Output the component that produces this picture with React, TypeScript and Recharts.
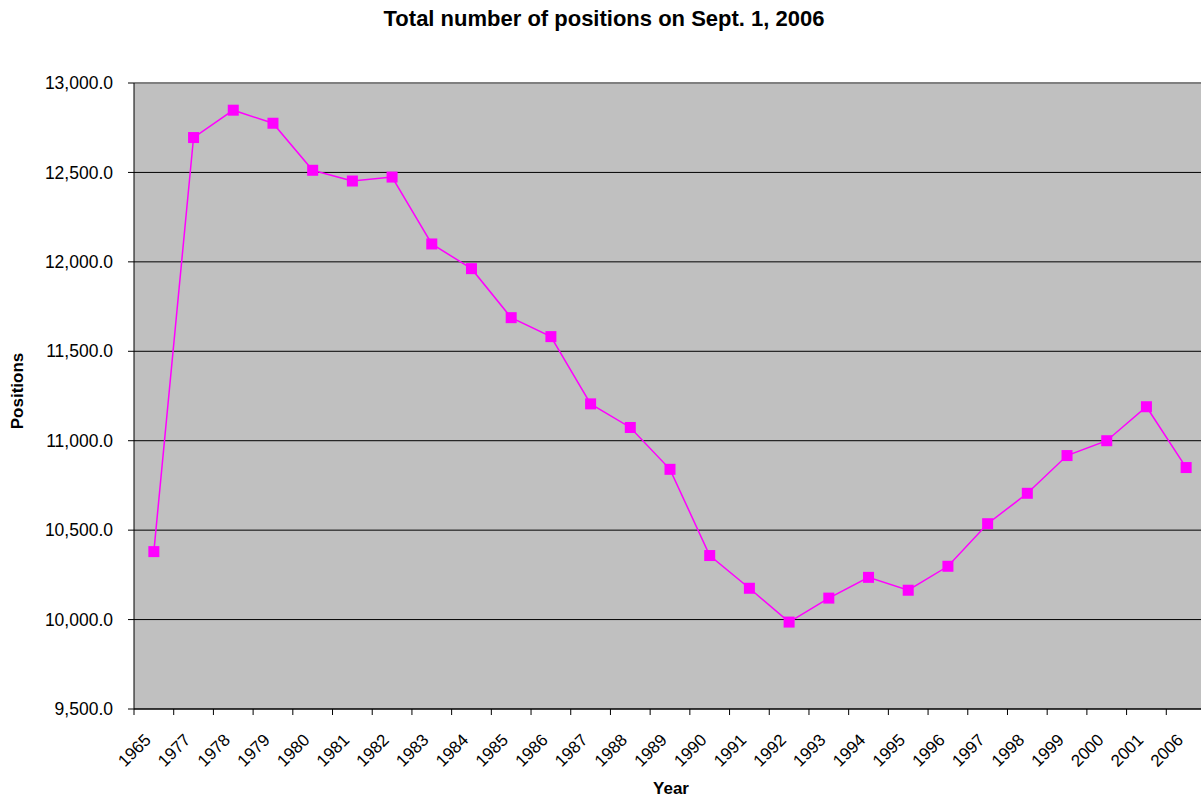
import React from 'react';
import { LineChart, Line, XAxis, YAxis, CartesianGrid, ReferenceLine } from 'recharts';

const years = ['1965','1977','1978','1979','1980','1981','1982','1983','1984','1985','1986','1987','1988','1989','1990','1991','1992','1993','1994','1995','1996','1997','1998','1999','2000','2001','2006'];
const positions = [10380,12695,12848,12775,12512,12452,12474,12100,11962,11688,11582,11206,11074,10840,10358,10175,9986,10120,10236,10164,10298,10536,10706,10917,11000,11190,10850];
const yTicks = [9500,10000,10500,11000,11500,12000,12500,13000];

const title = 'Total number of positions on Sept. 1, 2006';
const xTitle = 'Year';
const yTitle = 'Positions';

const data = years.map((y, i) => ({ year: y, value: positions[i] }));

const FONT = '"Liberation Sans", Arial, sans-serif';
const CHART_W = 1210;
const CHART_H = 798;
const Y_AXIS_W = 134;
const MARGIN = { top: 83, right: 4, bottom: 0, left: 0 };
const PLOT_W = CHART_W - Y_AXIS_W - MARGIN.left - MARGIN.right;
const BAND = PLOT_W / years.length;

function fmt(v: number): string {
  const s = Math.round(v).toString();
  const withCommas = s.replace(/\B(?=(\d{3})+(?!\d))/g, ',');
  return withCommas + '.0';
}

const XTick = (props: any) => {
  const { x, y, payload } = props;
  const bx = x - BAND / 2;
  const ax = x - 2;
  const ay = y + 32;
  return (
    <g>
      <line x1={bx} y1={y} x2={bx} y2={y + 6} stroke="#000" strokeWidth={1} />
      <text
        x={ax}
        y={ay}
        textAnchor="end"
        fontFamily={FONT}
        fontSize={17}
        fill="#000"
        transform={`rotate(-45 ${ax} ${ay})`}
      >
        {payload.value}
      </text>
    </g>
  );
};

const SquareDot = (props: any) => {
  const { cx, cy, index } = props;
  if (cx == null || cy == null) return null;
  return <rect key={`d${index}`} x={cx - 5.5} y={cy - 5.5} width={11} height={11} fill="#FF00FF" />;
};

export default function App() {
  return (
    <div style={{ position: 'absolute', left: 0, top: 0, width: 1201, height: 798, overflow: 'hidden', background: '#fff' }}>
      <LineChart width={CHART_W} height={CHART_H} data={data} margin={MARGIN}>
        <CartesianGrid vertical={false} stroke="#000" strokeOpacity={1} fill="#C0C0C0" fillOpacity={1} />
        <ReferenceLine y={13000} stroke="#808080" strokeWidth={2} />
        <XAxis
          dataKey="year"
          scale="band"
          interval={0}
          height={CHART_H - MARGIN.top - 626}
          tickLine={false}
          tickSize={0}
          tickMargin={0}
          axisLine={{ stroke: '#000', strokeWidth: 1 }}
          tick={<XTick />}
        />
        <YAxis
          domain={[9500, 13000]}
          ticks={yTicks}
          width={Y_AXIS_W}
          interval={0}
          tickSize={6}
          tickMargin={15}
          tickLine={{ stroke: '#000' }}
          axisLine={{ stroke: '#000', strokeWidth: 1 }}
          tickFormatter={fmt}
          tick={{ fontFamily: FONT, fontSize: 17.5, fill: '#000' }}
          allowDataOverflow
        />
        <Line
          dataKey="value"
          stroke="#FF00FF"
          strokeWidth={1.5}
          dot={<SquareDot />}
          activeDot={false}
          isAnimationActive={false}
          type="linear"
        />
      </LineChart>
      <svg width={1201} height={798} style={{ position: 'absolute', left: 0, top: 0, pointerEvents: 'none' }}>
        <text x={604} y={26} textAnchor="middle" fontFamily={FONT} fontSize={22} fontWeight="bold" fill="#000">{title}</text>
        <text x={671} y={794} textAnchor="middle" fontFamily={FONT} fontSize={17} fontWeight="bold" fill="#000">{xTitle}</text>
        <text x={23} y={391} textAnchor="middle" fontFamily={FONT} fontSize={17} fontWeight="bold" fill="#000" transform="rotate(-90 23 391)">{yTitle}</text>
      </svg>
    </div>
  );
}
